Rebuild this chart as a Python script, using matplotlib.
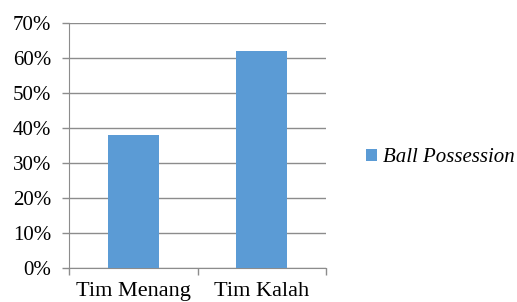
import matplotlib
matplotlib.use('Agg')
import matplotlib.pyplot as plt
from matplotlib.ticker import PercentFormatter, FixedLocator

categories = ['Tim Menang', 'Tim Kalah']
ball_possession = [38, 62]
series_name = 'Ball Possession'
y_ticks = [0, 10, 20, 30, 40, 50, 60, 70]

plt.rcParams['font.family'] = ['Liberation Serif', 'DejaVu Serif']
plt.rcParams['font.size'] = 15

fig = plt.figure(figsize=(5.17, 3.02), dpi=100)
ax = fig.add_axes([69 / 517, 1 - 268 / 302, (326 - 69) / 517, (268 - 23) / 302])

x = range(len(categories))
bars = ax.bar(x, ball_possession, width=0.4, color='#5B9BD5', label=series_name, zorder=3)

ax.set_xlim(-0.5, len(categories) - 0.5)
ax.set_ylim(0, 70)
ax.set_yticks(y_ticks)
ax.yaxis.set_major_formatter(PercentFormatter(decimals=0))
ax.grid(axis='y', color='#8C8C8C', linewidth=1, zorder=0)

ax.set_xticks(list(x))
ax.set_xticklabels(categories, fontsize=16)
ax.tick_params(axis='x', length=0, pad=10)
# category borders get the little tick marks
ax.xaxis.set_minor_locator(FixedLocator([-0.5, 0.5, 1.5]))
ax.tick_params(axis='x', which='minor', length=5, color='#8C8C8C', width=1)
ax.tick_params(axis='y', length=5, color='#8C8C8C', width=1, pad=8)

for side in ['top', 'right']:
    ax.spines[side].set_visible(False)
for side in ['left', 'bottom']:
    ax.spines[side].set_color('#8C8C8C')

fig.legend(handles=[bars], labels=[series_name], loc='center left',
           bbox_to_anchor=(366 / 517, 1 - 158 / 302), frameon=False,
           borderpad=0, borderaxespad=0,
           handlelength=0.55, handleheight=0.55, handletextpad=0.25,
           prop={'style': 'italic', 'size': 15})

fig.savefig('out.png', dpi=100)
